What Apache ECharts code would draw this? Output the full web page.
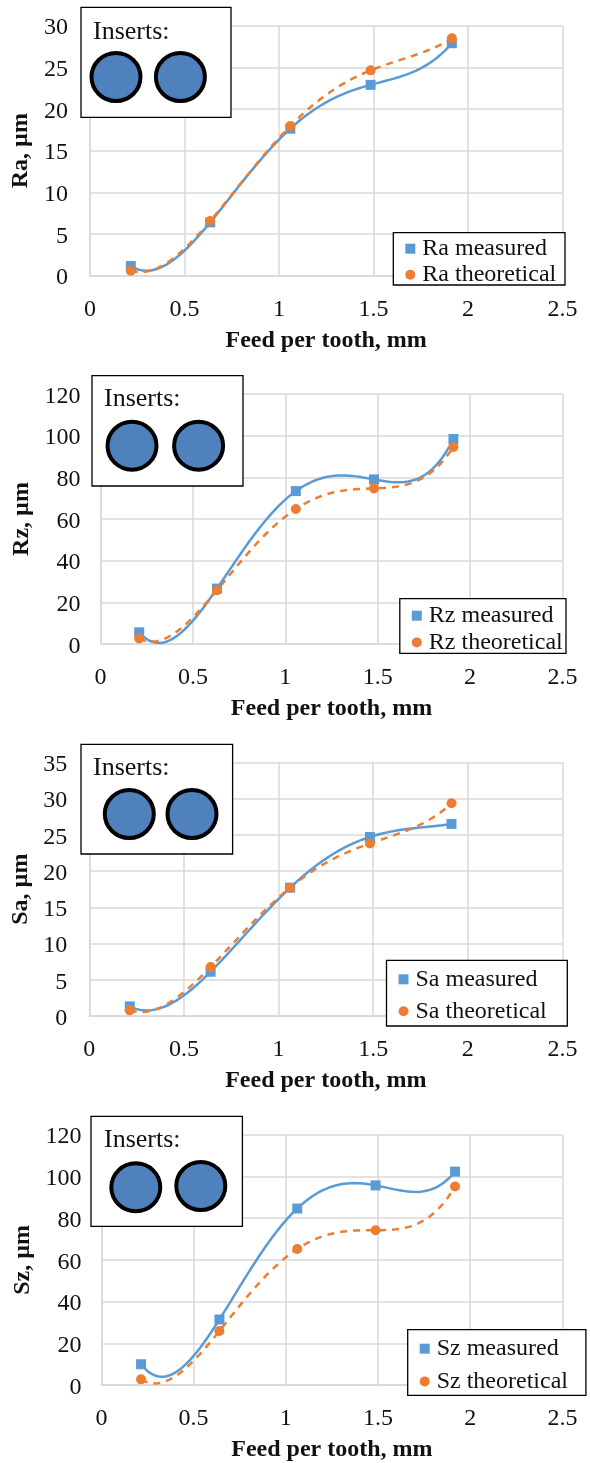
<!DOCTYPE html>
<html><head><meta charset="utf-8">
<style>html,body{margin:0;padding:0;background:#fff}#c{width:590px;height:1463px}</style>
<script src="https://cdn.jsdelivr.net/npm/echarts@6/dist/echarts.min.js"></script>
</head><body><div id="c"></div>
<script>
// Values
const raX = [0.216,0.636,1.06,1.485,1.915];
const raMeasured = [1.16,6.4,17.64,22.9,27.9];
const raTheoretical = [0.6,6.56,17.96,24.64,28.48];
const rzX = [0.209,0.63,1.057,1.48,1.91];
const rzMeasured = [5.6,26.6,73.4,79,98.4];
const rzTheoretical = [2.6,25.8,64.8,74.7,94.6];
const saX = [0.214,0.641,1.061,1.483,1.914];
const saMeasured = [1.33,6.1,17.7,24.7,26.5];
const saTheoretical = [0.78,6.76,17.7,23.8,29.35];
const szX = [0.215,0.64,1.062,1.487,1.918];
const szMeasured = [9.95,31.4,84.6,95.7,102.3];
const szTheoretical = [2.7,25.9,65.2,74.2,95.2];
const xTitle = 'Feed per tooth, mm';
const insertsLabel = 'Inserts:';

const BLUE='#5B9BD5', ORANGE='#ED7D31', GRID='#D9D9D9', FONT='"Liberation Serif","Times New Roman",serif';
const panels = [
 {n:'Ra',x:raX,m:raMeasured,t:raTheoretical,max:30,step:5,l:90,top:25.7,bot:275.7,
  box:[81,7.3,150,110],txt:[93,31.7],c:[[116,77],[180.4,77]],leg:[393.3,232.7,171.7,52.3],legGap:2,legTop:4},
 {n:'Rz',x:rzX,m:rzMeasured,t:rzTheoretical,max:120,step:20,l:100.6,top:394,bot:644,
  box:[92,375.7,151,110.3],txt:[104,399],c:[[132,445.7],[198.6,445.7]],leg:[399.8,598.7,166.2,54.6],legGap:2.7,legTop:5},
 {n:'Sa',x:saX,m:saMeasured,t:saTheoretical,max:35,step:5,l:89.3,top:762.3,bot:1016,
  box:[81,744.3,151.6,109.7],txt:[93,768.3],c:[[129.3,814],[192,814]],leg:[386.5,960.3,180.8,65.7],legGap:8,legTop:7},
 {n:'Sz',x:szX,m:szMeasured,t:szTheoretical,max:120,step:20,l:101.4,top:1134.7,bot:1388,
  box:[91,1116.3,151.4,110],txt:[104,1140],c:[[135.8,1187.3],[200.8,1186]],leg:[407.7,1329.7,178.2,65.6],legGap:8.7,legTop:7}
];
function quartic(xs,ys,x){ // order-4 trendline through the five points
  let s=0;
  for(let i=0;i<xs.length;i++){let w=1;for(let j=0;j<xs.length;j++)if(j!==i)w*=(x-xs[j])/(xs[i]-xs[j]);s+=w*ys[i];}
  return s;
}
function trend(name,xs,ys,idx,color,dash){
  return {type:'custom',name:name+' trend',coordinateSystem:'cartesian2d',xAxisIndex:idx,yAxisIndex:idx,silent:true,z:2,clip:false,
    data:xs.map((v,i)=>[v,ys[i]]),
    renderItem(p,api){
      if(p.dataIndex!==0) return null;
      const pts=[],N=90,a=xs[0],b=xs[xs.length-1];
      for(let k=0;k<=N;k++){const x=a+(b-a)*k/N;pts.push(api.coord([x,quartic(xs,ys,x)]));}
      return {type:'polyline',shape:{points:pts},style:{fill:null,stroke:color,lineWidth:2.5,lineDash:dash?[7,6]:null}};
    }};
}
const option={animation:false,backgroundColor:'#fff',grid:[],xAxis:[],yAxis:[],series:[],legend:[],graphic:[]};
const axisText={color:'#111',fontFamily:FONT,fontSize:24};
const titleText={color:'#111',fontFamily:FONT,fontSize:24,fontWeight:'bold'};
panels.forEach((p,i)=>{
  option.grid.push({left:p.l,width:562.4-p.l,top:p.top,height:p.bot-p.top});
  const sp={lineStyle:{color:GRID,width:1.5}};
  option.xAxis.push({type:'value',gridIndex:i,min:0,max:2.5,interval:0.5,axisTick:{show:false},
    axisLine:{show:true,onZero:false,lineStyle:{color:GRID,width:1.5}},splitLine:{show:true,...sp},
    axisLabel:{...axisText,margin:22,hideOverlap:false,showMinLabel:true,showMaxLabel:true},
    name:xTitle,nameLocation:'middle',nameGap:53,nameTextStyle:titleText});
  option.yAxis.push({type:'value',gridIndex:i,min:0,max:p.max,interval:p.step,axisTick:{show:false},
    axisLine:{show:true,onZero:false,lineStyle:{color:GRID,width:1.5}},splitLine:{show:true,...sp},
    axisLabel:{...axisText,margin:p.l>95?20:22,verticalAlign:'top',lineHeight:5,showMinLabel:true,showMaxLabel:true},
    name:p.n+', µm',nameLocation:'middle',nameGap:p.l-40,nameTextStyle:titleText});
  const mName=p.n+' measured', tName=p.n+' theoretical';
  option.series.push(trend(mName,p.x,p.m,i,BLUE,false));
  option.series.push(trend(tName,p.x,p.t,i,ORANGE,true));
  option.series.push({type:'scatter',name:mName,xAxisIndex:i,yAxisIndex:i,symbol:'rect',symbolSize:10,z:3,itemStyle:{color:BLUE,opacity:1},data:p.x.map((v,k)=>[v,p.m[k]])});
  option.series.push({type:'scatter',name:tName,xAxisIndex:i,yAxisIndex:i,symbol:'circle',symbolSize:10,z:4,itemStyle:{color:ORANGE,opacity:1},data:p.x.map((v,k)=>[v,p.t[k]])});
  const [lx,ly,lw,lh]=p.leg;
  option.graphic.push({type:'rect',z:100,silent:true,shape:{x:lx,y:ly,width:lw,height:lh},style:{fill:'#fff',stroke:'#000',lineWidth:1.3}});
  option.legend.push({data:[mName,tName],orient:'vertical',left:lx+12,top:ly+p.legTop,z:200,selectedMode:false,
    itemWidth:10,itemHeight:10,itemGap:p.legGap,padding:0,
    textStyle:{color:'#111',fontFamily:FONT,fontSize:24,lineHeight:24,padding:[0,0,0,2]}});
  const [bx,by,bw,bh]=p.box;
  option.graphic.push({type:'rect',z:100,silent:true,shape:{x:bx,y:by,width:bw,height:bh},style:{fill:'#fff',stroke:'#000',lineWidth:1.3}});
  option.graphic.push({type:'text',z:101,silent:true,style:{x:p.txt[0],y:p.txt[1],text:insertsLabel,fill:'#111',fontFamily:FONT,fontSize:26,textVerticalAlign:'middle'}});
  p.c.forEach(c=>option.graphic.push({type:'ellipse',z:101,silent:true,shape:{cx:c[0],cy:c[1],rx:24.5,ry:24},style:{fill:'#4F81BD',stroke:'#000',lineWidth:4}}));
});
echarts.init(document.getElementById('c'),null,{renderer:'canvas'}).setOption(option);
</script></body></html>
